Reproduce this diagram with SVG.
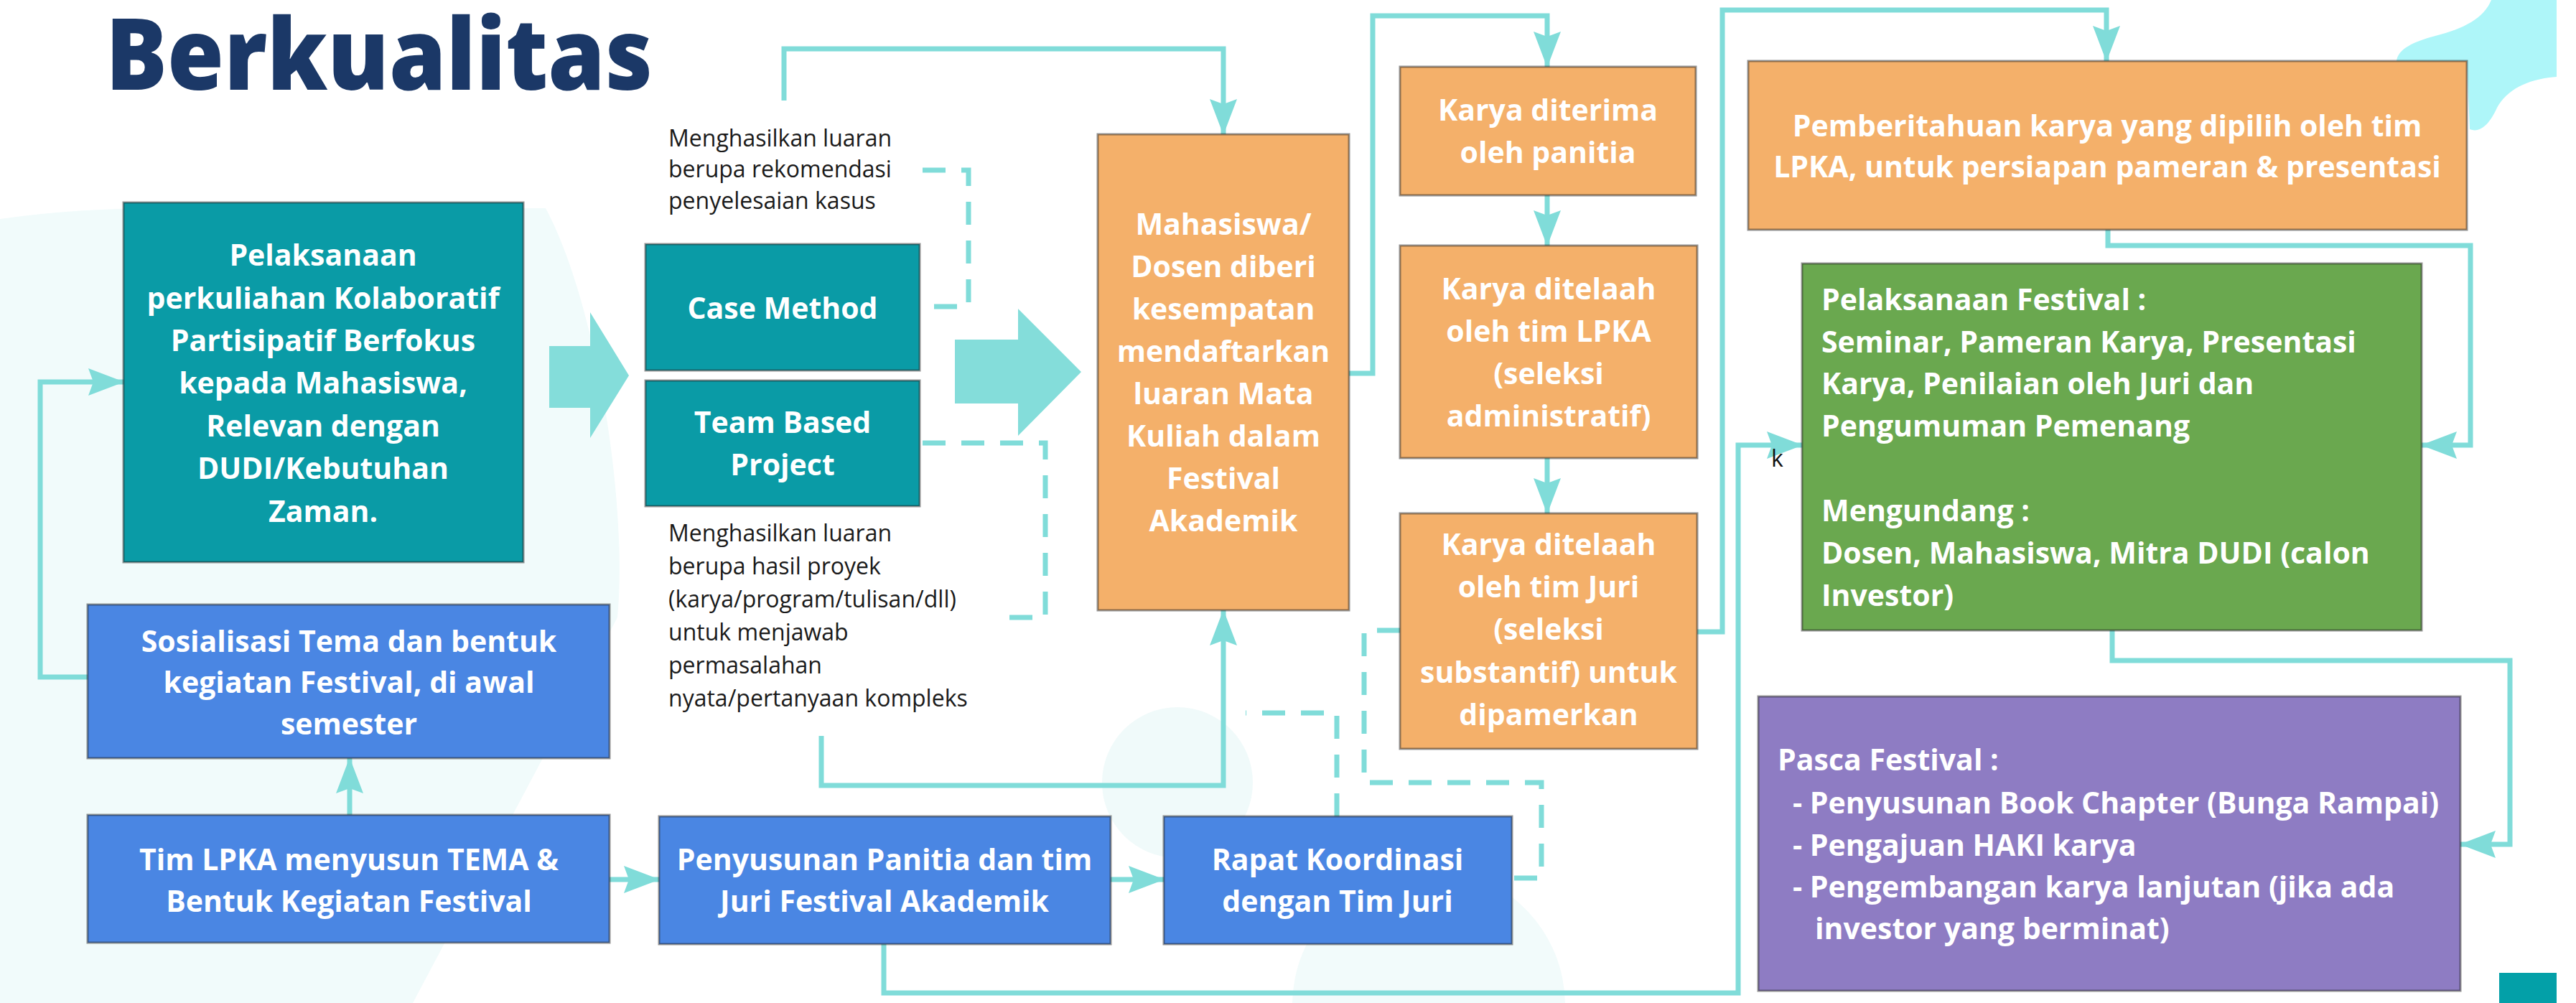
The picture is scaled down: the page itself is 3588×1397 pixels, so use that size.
<svg xmlns="http://www.w3.org/2000/svg" width="3588" height="1397" viewBox="0 0 3588 1397">
<style>
.bx{stroke:rgba(40,40,40,0.5);stroke-width:3}
.teal{fill:#0a9ba6}
.blue{fill:#4a86e3}
.orange{fill:#f4b06a}
.green{fill:#6aa84f}
.purple{fill:#8e7cc3}
.t{font-family:"Open Sans","Liberation Sans",sans-serif;font-weight:700;font-size:41px;fill:#ffffff}
.c{text-anchor:middle}
.note{font-family:"Open Sans","Liberation Sans",sans-serif;font-weight:400;font-size:32px;fill:#1a1a1a}
.ln{fill:none;stroke:#80dcd9;stroke-width:7}
.dash{stroke-dasharray:32 22}
.blk{fill:#84ddda}
</style>
<defs>
<marker id="ah" viewBox="0 0 50 38" refX="49" refY="19" markerWidth="50" markerHeight="38" markerUnits="userSpaceOnUse" orient="auto">
<path d="M0,0 L50,19 L0,38 L7,19 Z" fill="#80dcd9"/>
</marker>
</defs>
<rect width="3588" height="1397" fill="#ffffff"/>
<g id="background">
<path d="M0,305 Q120,288 260,290 L760,290 C830,420 875,700 860,860 L575,1397 L0,1397 Z" fill="#f1fbfb"/>
<circle cx="1640" cy="1090" r="105" fill="#f0fafa"/>
<circle cx="1990" cy="1400" r="190" fill="#f2fbfb"/>
<path d="M3470,0 L3561,0 L3561,107 C3520,110 3492,125 3478,150 C3468,172 3455,186 3440,180 L3436,85 L3338,85 C3340,68 3362,58 3392,50 C3432,40 3460,25 3470,0 Z" fill="#aef6f9"/>
<rect x="3481" y="1355" width="80" height="42" fill="#03a0a8"/>
</g>
<g id="title">
<text x="147" y="125" font-family="'Open Sans','Liberation Sans',sans-serif" font-weight="800" font-size="138" fill="#1b3867" textLength="762" lengthAdjust="spacingAndGlyphs">Berkualitas</text>
</g>
<g id="connectors">
<path class="ln" d="M122,943 H56 V532 H172" marker-end="url(#ah)"/>
<path class="ln" d="M487,1135 V1056" marker-end="url(#ah)"/>
<path class="ln" d="M849,1225 H918" marker-end="url(#ah)"/>
<path class="ln" d="M1547,1225 H1621" marker-end="url(#ah)"/>
<path class="ln" d="M1092,140 V68 H1704 V187" marker-end="url(#ah)"/>
<path class="ln" d="M1144,1025 V1094 H1704 V850" marker-end="url(#ah)"/>
<path class="ln dash" d="M1285,237 H1349 V427 H1285"/>
<path class="ln dash" d="M1285,617 H1456 V860 H1390"/>
<path class="ln dash" d="M1862,1137 V993 H1735"/>
<path class="ln dash" d="M1950,878 H1900 V1090 H2147 V1223 H2106"/>
<path class="ln" d="M1879,520 H1912 V22 H2155 V93" marker-end="url(#ah)"/>
<path class="ln" d="M2155,272 V342" marker-end="url(#ah)"/>
<path class="ln" d="M2155,638 V715" marker-end="url(#ah)"/>
<path class="ln" d="M2364,880 H2399 V14 H2934 V85" marker-end="url(#ah)"/>
<path class="ln" d="M1231,1315 V1383 H2421 V620 H2510" marker-end="url(#ah)"/>
<path class="ln" d="M2936,320 V342 H3441 V620 H3373" marker-end="url(#ah)"/>
<path class="ln" d="M2942,878 V920 H3496 V1176 H3427" marker-end="url(#ah)"/>
<polygon class="blk" points="765,482 822,482 822,435 876,523 822,610 822,568 765,568"/>
<polygon class="blk" points="1330,473 1418,473 1418,430 1506,518 1418,607 1418,562 1330,562"/>
</g>
<g id="node-pelaksanaan-perkuliahan">
<rect class="bx teal" x="172" y="282" width="557" height="501"/>
<text class="t c" x="450"><tspan x="450" y="370">Pelaksanaan</tspan><tspan x="450" y="430">perkuliahan Kolaboratif</tspan><tspan x="450" y="489">Partisipatif Berfokus</tspan><tspan x="450" y="548">kepada Mahasiswa,</tspan><tspan x="450" y="608">Relevan dengan</tspan><tspan x="450" y="667">DUDI/Kebutuhan</tspan><tspan x="450" y="727">Zaman.</tspan></text>
</g>
<g id="node-case-method">
<rect class="bx teal" x="899" y="340" width="382" height="176"/>
<text class="t c" x="1090" y="444">Case Method</text>
</g>
<g id="node-team-based-project">
<rect class="bx teal" x="899" y="530" width="382" height="175"/>
<text class="t c"><tspan x="1090" y="603">Team Based</tspan><tspan x="1090" y="662">Project</tspan></text>
</g>
<g id="note-case">
<text class="note"><tspan x="931" y="204">Menghasilkan luaran</tspan><tspan x="931" y="247">berupa rekomendasi</tspan><tspan x="931" y="291">penyelesaian kasus</tspan></text>
</g>
<g id="note-team">
<text class="note"><tspan x="931" y="754">Menghasilkan luaran</tspan><tspan x="931" y="800">berupa hasil proyek</tspan><tspan x="931" y="846">(karya/program/tulisan/dll)</tspan><tspan x="931" y="892">untuk menjawab</tspan><tspan x="931" y="938">permasalahan</tspan><tspan x="931" y="984">nyata/pertanyaan kompleks</tspan></text>
</g>
<g id="node-mahasiswa-dosen">
<rect class="bx orange" x="1529" y="187" width="350" height="663"/>
<text class="t c"><tspan x="1704" y="327">Mahasiswa/</tspan><tspan x="1704" y="386">Dosen diberi</tspan><tspan x="1704" y="445">kesempatan</tspan><tspan x="1704" y="504">mendaftarkan</tspan><tspan x="1704" y="563">luaran Mata</tspan><tspan x="1704" y="622">Kuliah dalam</tspan><tspan x="1704" y="681">Festival</tspan><tspan x="1704" y="740">Akademik</tspan></text>
</g>
<g id="node-karya-diterima">
<rect class="bx orange" x="1950" y="93" width="412" height="179"/>
<text class="t c"><tspan x="2156" y="168">Karya diterima</tspan><tspan x="2156" y="227">oleh panitia</tspan></text>
</g>
<g id="node-karya-lpka">
<rect class="bx orange" x="1950" y="342" width="414" height="296"/>
<text class="t c"><tspan x="2157" y="417">Karya ditelaah</tspan><tspan x="2157" y="476">oleh tim LPKA</tspan><tspan x="2157" y="535">(seleksi</tspan><tspan x="2157" y="594">administratif)</tspan></text>
</g>
<g id="node-karya-juri">
<rect class="bx orange" x="1950" y="715" width="414" height="328"/>
<text class="t c"><tspan x="2157" y="773">Karya ditelaah</tspan><tspan x="2157" y="832">oleh tim Juri</tspan><tspan x="2157" y="891">(seleksi</tspan><tspan x="2157" y="951">substantif) untuk</tspan><tspan x="2157" y="1010">dipamerkan</tspan></text>
</g>
<g id="node-pemberitahuan">
<rect class="bx orange" x="2435" y="85" width="1001" height="235"/>
<text class="t c"><tspan x="2935" y="190">Pemberitahuan karya yang dipilih oleh tim</tspan><tspan x="2935" y="247">LPKA, untuk persiapan pameran &amp; presentasi</tspan></text>
</g>
<g id="node-pelaksanaan-festival">
<rect class="bx green" x="2510" y="367" width="863" height="511"/>
<text class="t"><tspan x="2537" y="432">Pelaksanaan Festival :</tspan><tspan x="2537" y="491">Seminar, Pameran Karya, Presentasi</tspan><tspan x="2537" y="549">Karya, Penilaian oleh Juri dan</tspan><tspan x="2537" y="608">Pengumuman Pemenang</tspan><tspan x="2537" y="726">Mengundang :</tspan><tspan x="2537" y="785">Dosen, Mahasiswa, Mitra DUDI (calon</tspan><tspan x="2537" y="844">Investor)</tspan></text>
</g>
<g id="node-pasca-festival">
<rect class="bx purple" x="2449" y="970" width="978" height="410"/>
<text class="t"><tspan x="2476" y="1073">Pasca Festival :</tspan><tspan x="2497" y="1133">- Penyusunan Book Chapter (Bunga Rampai)</tspan><tspan x="2497" y="1192">- Pengajuan HAKI karya</tspan><tspan x="2497" y="1250">- Pengembangan karya lanjutan (jika ada</tspan><tspan x="2528" y="1308">investor yang berminat)</tspan></text>
</g>
<g id="node-sosialisasi">
<rect class="bx blue" x="122" y="842" width="727" height="214"/>
<text class="t c"><tspan x="486" y="908">Sosialisasi Tema dan bentuk</tspan><tspan x="486" y="965">kegiatan Festival, di awal</tspan><tspan x="486" y="1023">semester</tspan></text>
</g>
<g id="node-tim-lpka">
<rect class="bx blue" x="122" y="1135" width="727" height="178"/>
<text class="t c"><tspan x="486" y="1212">Tim LPKA menyusun TEMA &amp;</tspan><tspan x="486" y="1270">Bentuk Kegiatan Festival</tspan></text>
</g>
<g id="node-penyusunan-panitia">
<rect class="bx blue" x="918" y="1137" width="629" height="178"/>
<text class="t c"><tspan x="1232" y="1212">Penyusunan Panitia dan tim</tspan><tspan x="1232" y="1270">Juri Festival Akademik</tspan></text>
</g>
<g id="node-rapat-koordinasi">
<rect class="bx blue" x="1621" y="1137" width="485" height="178"/>
<text class="t c"><tspan x="1863" y="1212">Rapat Koordinasi</tspan><tspan x="1863" y="1270">dengan Tim Juri</tspan></text>
</g>
<g id="stray-label">
<text x="2467" y="650" font-family="'Open Sans','Liberation Sans',sans-serif" font-size="32" fill="#111111">k</text>
</g>
</svg>
